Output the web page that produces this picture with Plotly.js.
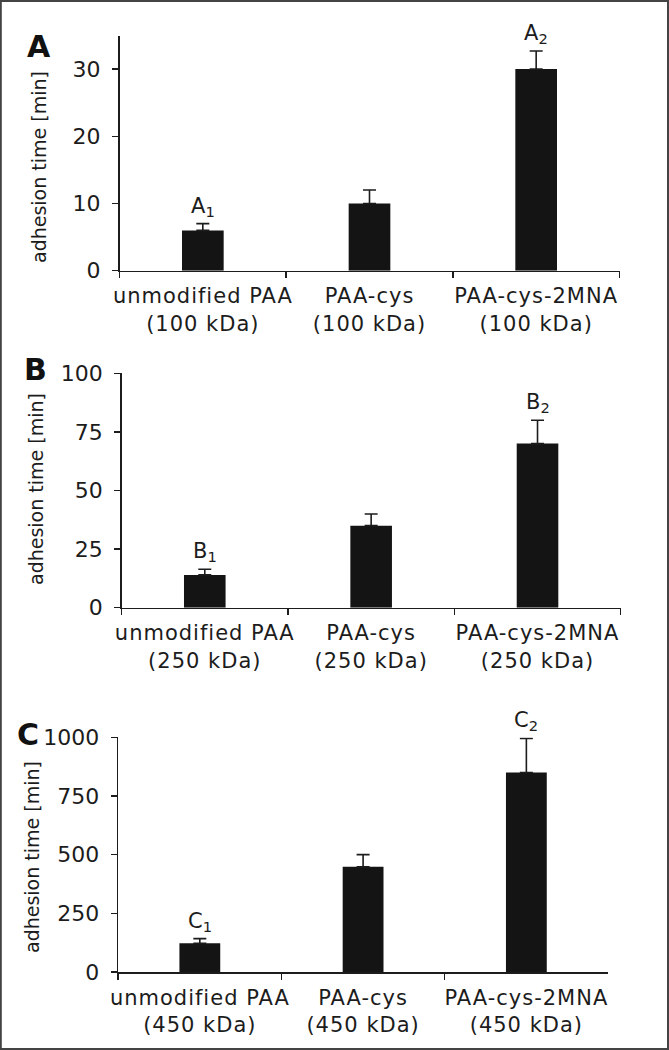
<!DOCTYPE html>
<html>
<head>
<meta charset="utf-8">
<script src="https://cdn.plot.ly/plotly-3.0.1.min.js"></script>
<style>
  html, body { margin: 0; padding: 0; background: #fff; }
  #chart { width: 669px; height: 1050px; }
  #chart g.xtick text, #chart g.x2tick text, #chart g.x3tick text { letter-spacing: 1px; }
</style>
</head>
<body>
<div id="chart"></div>
<script>
// ---- data ----
const catsA = ['unmodified PAA<br>(100 kDa)', 'PAA-cys<br>(100 kDa)', 'PAA-cys-2MNA<br>(100 kDa)'];
const catsB = ['unmodified PAA<br>(250 kDa)', 'PAA-cys<br>(250 kDa)', 'PAA-cys-2MNA<br>(250 kDa)'];
const catsC = ['unmodified PAA<br>(450 kDa)', 'PAA-cys<br>(450 kDa)', 'PAA-cys-2MNA<br>(450 kDa)'];

const valuesA = [6, 10, 30];
const errorsA = [1, 2, 2.7];
const valuesB = [14, 35, 70];
const errorsB = [2.4, 5, 10];
const valuesC = [122, 448, 850];
const errorsC = [20, 52, 145];

const panelLetters = ['A', 'B', 'C'];
const markLabelsA = ['A<sub>1</sub>', '', 'A<sub>2</sub>'];
const markLabelsB = ['B<sub>1</sub>', '', 'B<sub>2</sub>'];
const markLabelsC = ['C<sub>1</sub>', '', 'C<sub>2</sub>'];

const yTitle = 'adhesion time [min]';

// ---- styling ----
const W = 669, H = 1050;
const ink = '#1c1c1c';
const font = '"DejaVu Sans", Arial, sans-serif';

function px2x(p) { return p / W; }
function px2y(p) { return 1 - p / H; }

const panels = [
  { cats: catsA, vals: valuesA, errs: errorsA, labels: markLabelsA, range: [0, 35], dtick: 10,
    x0: 119.5, x1: 619.5, yTop: 35.5, yBot: 270.7, letter: [39, 46], title: [39, 167] },
  { cats: catsB, vals: valuesB, errs: errorsB, labels: markLabelsB, range: [0, 100], dtick: 25,
    x0: 121.6, x1: 620.7, yTop: 373.3, yBot: 607.7, letter: [35, 369], title: [36, 489] },
  { cats: catsC, vals: valuesC, errs: errorsC, labels: markLabelsC, range: [0, 1000], dtick: 250,
    x0: 118.2, x1: 608, yTop: 737.3, yBot: 972, letter: [28, 734], title: [32, 857] }
];

const data = [];
const layout = {
  width: W, height: H,
  margin: { l: 0, r: 0, t: 0, b: 0 },
  paper_bgcolor: '#fff',
  plot_bgcolor: '#fff',
  showlegend: false,
  bargap: 0.75,
  font: { family: font, color: ink, size: 20 },
  annotations: [],
  shapes: [
    { type: 'rect', xref: 'paper', yref: 'paper', x0: 0.0012, x1: 0.9985, y0: 0.001, y1: 0.999,
      line: { color: '#444', width: 2 }, fillcolor: 'rgba(0,0,0,0)' }
  ]
};

panels.forEach((p, i) => {
  const n = i === 0 ? '' : String(i + 1);
  const xa = 'x' + n, ya = 'y' + n;
  data.push({
    type: 'bar',
    x: p.cats,
    y: p.vals,
    xaxis: xa, yaxis: ya,
    marker: { color: '#141414', line: { width: 0 } },
    error_y: {
      type: 'data', symmetric: false, array: p.errs, arrayminus: p.vals.map(() => 0),
      color: ink, thickness: 1.6, width: 6.5
    },
    hoverinfo: 'skip'
  });
  layout['xaxis' + n] = {
    domain: [px2x(p.x0), px2x(p.x1)],
    anchor: ya,
    type: 'category',
    range: [-0.5, 2.5],
    tickson: 'boundaries',
    tickangle: 0,
    ticks: 'outside', ticklen: 6, tickwidth: 1.5, tickcolor: ink,
    showline: true, linecolor: ink, linewidth: 1.5,
    showgrid: false, zeroline: false,
    tickfont: { family: font, size: 21, color: ink },
    ticklabelstandoff: 6,
    fixedrange: true
  };
  layout['yaxis' + n] = {
    domain: [px2y(p.yBot), px2y(p.yTop)],
    anchor: xa,
    range: p.range,
    dtick: p.dtick, tick0: 0,
    ticks: 'outside', ticklen: 6, tickwidth: 1.5, tickcolor: ink,
    showline: true, linecolor: ink, linewidth: 1.5,
    showgrid: false, zeroline: false,
    tickfont: { family: font, size: 22, color: ink },
    ticklabelstandoff: 7,
    fixedrange: true
  };
  // y-axis title (placed as rotated text so it can sit exactly as in the figure)
  layout.annotations.push({
    xref: 'paper', yref: 'paper', x: px2x(p.title[0]), y: px2y(p.title[1]),
    xanchor: 'center', yanchor: 'middle', showarrow: false, textangle: -90,
    text: yTitle, font: { family: font, size: 19, color: ink }
  });
  p.labels.forEach((lab, k) => {
    if (!lab) return;
    layout.annotations.push({
      xref: xa, yref: ya, x: p.cats[k], y: p.vals[k] + p.errs[k],
      text: lab, showarrow: false, yanchor: 'bottom', yshift: 2,
      font: { family: font, size: 21, color: ink }
    });
  });
  layout.annotations.push({
    xref: 'paper', yref: 'paper', x: px2x(p.letter[0]), y: px2y(p.letter[1]),
    xanchor: 'center', yanchor: 'middle', showarrow: false,
    text: '<b>' + panelLetters[i] + '</b>',
    font: { family: font, size: 30, color: '#111' }
  });
});

Plotly.newPlot('chart', data, layout, { displayModeBar: false, staticPlot: true });
</script>
</body>
</html>
